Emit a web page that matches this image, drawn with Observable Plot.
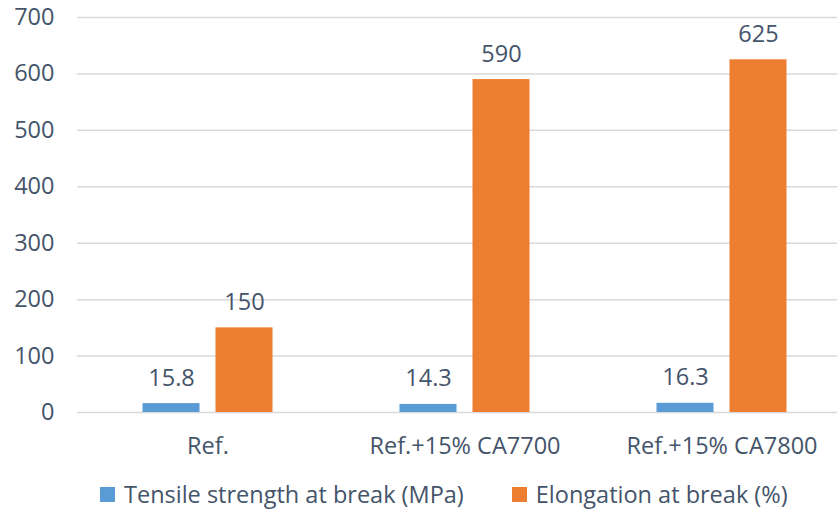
<!DOCTYPE html>
<html>
<head>
<meta charset="utf-8">
<script src="https://cdn.jsdelivr.net/npm/d3@7"></script>
<script src="https://cdn.jsdelivr.net/npm/@observablehq/plot@0.6"></script>
<style>
  html, body { margin: 0; padding: 0; background: #fff; }
  #wrap { width: 837px; height: 518px; font-family: "Open Sans", sans-serif; color: #44546A; }
  #legend { display: flex; align-items: center; height: 48px; padding-left: 100px; font-size: 23.5px; white-space: nowrap; }
  .item { display: flex; align-items: center; margin-right: 48px; }
  .sw { width: 15px; height: 15px; margin-right: 9px; }
</style>
</head>
<body>
<div id="wrap"><div id="chart"></div><div id="legend"></div></div>
<script>
const categories = ["Ref.", "Ref.+15% CA7700", "Ref.+15% CA7800"];
const tensile = [15.8, 14.3, 16.3];
const elongation = [150, 590, 625];
const seriesNames = ["Tensile strength at break (MPa)", "Elongation at break (%)"];
const seriesColors = ["#5B9BD5", "#ED7D31"];
const yTicks = [0, 100, 200, 300, 400, 500, 600, 700];

const tData = categories.map((c, i) => ({cat: c, v: tensile[i]}));
const eData = categories.map((c, i) => ({cat: c, v: elongation[i]}));
const textColor = "#44546A";
const off = 36.5;

const chart = Plot.plot({
  width: 837,
  height: 470,
  marginTop: 17,
  marginBottom: 58,
  marginLeft: 77,
  marginRight: 0,
  style: {fontFamily: "Open Sans", fontSize: "23.5px", color: textColor, background: "white", overflow: "visible"},
  x: {domain: categories, range: [79, 850], paddingInner: 0.7782, paddingOuter: 0.3891, label: null},
  y: {domain: [0, 700], label: null},
  marks: [
    Plot.gridY(yTicks, {stroke: "#D9D9D9", strokeOpacity: 1, strokeWidth: 1.5}),
    Plot.axisY({ticks: yTicks, tickSize: 0, tickPadding: 23, label: null, fill: textColor}),
    Plot.axisX({tickSize: 0, tickPadding: 25, label: null, fill: textColor}),
    Plot.barY(tData, {x: "cat", y: "v", fill: seriesColors[0], dx: -off}),
    Plot.barY(eData, {x: "cat", y: "v", fill: seriesColors[1], dx: off}),
    Plot.text(tData, {x: "cat", y: "v", text: d => String(d.v), dx: -off, dy: -18, lineAnchor: "bottom", fill: textColor, fontSize: 23.5}),
    Plot.text(eData, {x: "cat", y: "v", text: d => String(d.v), dx: off, dy: -18, lineAnchor: "bottom", fill: textColor, fontSize: 23.5})
  ]
});
document.getElementById("chart").appendChild(chart);

const legend = document.getElementById("legend");
seriesNames.forEach((name, i) => {
  const item = document.createElement("div");
  item.className = "item";
  const sw = document.createElement("div");
  sw.className = "sw";
  sw.style.background = seriesColors[i];
  const label = document.createElement("span");
  label.textContent = name;
  item.appendChild(sw);
  item.appendChild(label);
  legend.appendChild(item);
});
</script>
</body>
</html>
